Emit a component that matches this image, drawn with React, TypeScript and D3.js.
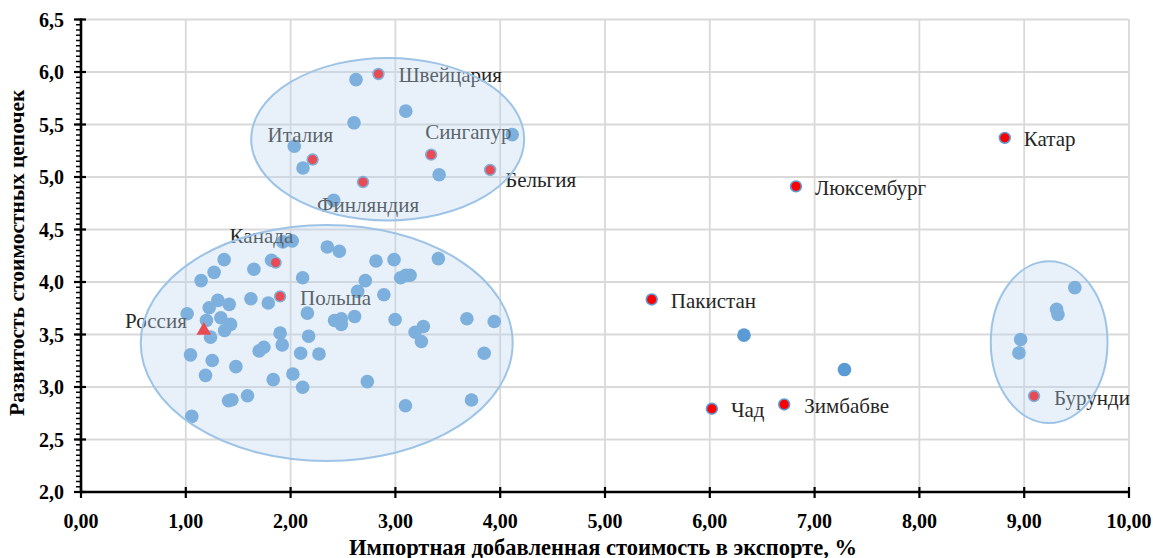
import React from 'react';
import * as d3 from 'd3';

// ---------- DATA ----------
const xTicks = [0, 1, 2, 3, 4, 5, 6, 7, 8, 9, 10];
const yTicks = [2.0, 2.5, 3.0, 3.5, 4.0, 4.5, 5.0, 5.5, 6.0, 6.5];

const xTitle = 'Импортная добавленная стоимость в экспорте, %';
const yTitle = 'Развитость стоимостных цепочек';

// other countries (blue)
const otherX = [
  2.624, 3.099, 2.605, 2.035, 2.118, 2.411, 3.417, 4.115,
  1.818, 1.927, 2.016, 2.35, 2.465, 1.366, 1.27, 1.146, 1.65, 2.115, 2.815, 2.987, 3.41,
  2.713, 3.05, 3.1, 3.14, 2.64, 2.89, 1.621, 1.787, 1.414, 1.306, 1.223, 1.013, 1.197,
  1.334, 1.427, 1.37, 1.236, 2.16, 2.42, 2.484, 2.484, 2.611, 2.997, 3.267, 3.188, 3.248,
  3.682, 3.943, 1.9, 2.172, 1.92, 1.745, 1.7, 1.045, 1.252, 1.478, 2.096, 2.271, 3.847,
  1.188, 1.834, 2.022, 2.115, 2.732, 1.589, 1.408, 1.44, 3.096, 3.726, 1.057,
  6.326, 7.285, 9.483, 9.309, 9.322, 8.966, 8.95,
];
const otherY = [
  5.927, 5.627, 5.516, 5.293, 5.086, 4.777, 5.022, 5.404,
  4.207, 4.382, 4.392, 4.334, 4.293, 4.213, 4.092, 4.013, 4.121, 4.041, 4.2, 4.213, 4.223,
  4.013, 4.041, 4.064, 4.064, 3.911, 3.879, 3.841, 3.8, 3.787, 3.825, 3.755, 3.697, 3.634,
  3.659, 3.596, 3.538, 3.475, 3.704, 3.634, 3.65, 3.596, 3.672, 3.643, 3.576, 3.522, 3.433,
  3.65, 3.624, 3.513, 3.484, 3.401, 3.379, 3.344, 3.306, 3.252, 3.194, 3.322, 3.315, 3.322,
  3.111, 3.07, 3.124, 2.997, 3.051, 2.917, 2.869, 2.879, 2.822, 2.876, 2.72,
  3.494, 3.166, 3.946, 3.739, 3.691, 3.452, 3.325,
];

// highlighted countries (red)
const highlightNames = [
  'Швейцария', 'Италия', 'Сингапур', 'Бельгия', 'Финляндия', 'Канада', 'Польша',
  'Пакистан', 'Люксембург', 'Катар', 'Чад', 'Зимбабве', 'Бурунди',
];
const highlightX = [2.838, 2.21, 3.341, 3.904, 2.691, 1.857, 1.9, 5.446, 6.822, 8.815, 6.02, 6.71, 9.094];
const highlightY = [5.981, 5.166, 5.213, 5.067, 4.952, 4.185, 3.863, 3.834, 4.911, 5.373, 2.793, 2.834, 2.914];

// Russia (triangle)
const russiaName = 'Россия';
const russiaX = 1.172;
const russiaY = 3.538;

// cluster ellipses (centre and radii in data units)
const clusterCx = [2.9265, 2.3445, 9.238];
const clusterCy = [5.36, 3.419, 3.4265];
const clusterRx = [1.3025, 1.7745, 0.557];
const clusterRy = [0.774, 1.124, 0.77];

// ---------- LAYOUT ----------
const W = 1153;
const H = 558;
const labelOffsets: Record<string, [number, number, string]> = {
  'Швейцария': [20, 1, 'start'],
  'Италия': [-45, -25, 'start'],
  'Сингапур': [-6, -23, 'start'],
  'Бельгия': [15, 10, 'start'],
  'Финляндия': [-46, 23, 'start'],
  'Канада': [-46, -27, 'start'],
  'Польша': [20, 2, 'start'],
  'Пакистан': [19, 1.5, 'start'],
  'Люксембург': [19, 1.5, 'start'],
  'Катар': [19, 1.5, 'start'],
  'Чад': [19, 1.5, 'start'],
  'Зимбабве': [20, 1.5, 'start'],
  'Бурунди': [20, 1.5, 'start'],
  'Россия': [-17, -10, 'end'],
};

const serif = '"Liberation Serif", "Times New Roman", serif';

export default function App() {
  const x = d3.scaleLinear().domain([0, 10]).range([81, 1129]);
  const y = d3.scaleLinear().domain([2, 6.5]).range([492, 19.5]);
  const fmtX = (v: number) => v.toFixed(2).replace('.', ',');
  const fmtY = (v: number) => v.toFixed(1).replace('.', ',');
  const minorY = d3.range(2, 6.5001, 0.05);
  const tri = d3.symbol().type(d3.symbolTriangle).size(95)();

  return (
    <div style={{ position: 'absolute', left: 0, top: 0 }}>
      <svg width={W} height={H} style={{ display: 'block', background: '#fff' }}>
        {/* gridlines */}
        <g stroke="#d9d9d9" strokeWidth={1.8}>
          {xTicks.filter((t) => t > 0).map((t) => (
            <line key={'gx' + t} x1={x(t)} x2={x(t)} y1={y(2)} y2={y(6.5)} />
          ))}
          {yTicks.filter((t) => t > 2).map((t) => (
            <line key={'gy' + t} x1={x(0)} x2={x(10)} y1={y(t)} y2={y(t)} />
          ))}
        </g>

        {/* blue points */}
        <g fill="#5b9bd5">
          {otherX.map((v, i) => (
            <circle key={'o' + i} cx={x(v)} cy={y(otherY[i])} r={6.8} />
          ))}
        </g>

        {/* red highlighted points */}
        <g fill="#ff0000" stroke="#5b9bd5" strokeWidth={1.6}>
          {highlightX.map((v, i) => (
            <circle key={'h' + i} cx={x(v)} cy={y(highlightY[i])} r={5.4} />
          ))}
        </g>

        {/* Russia */}
        <path d={tri || ''} transform={`translate(${x(russiaX)},${y(russiaY)})`} fill="#ff0000" />

        {/* labels */}
        <g fontFamily={serif} fontSize={21} fill="#262626">
          {highlightNames.map((n, i) => {
            const o = labelOffsets[n];
            return (
              <text key={'l' + n} x={x(highlightX[i]) + o[0]} y={y(highlightY[i]) + o[1]}
                textAnchor={o[2] as any} dominantBaseline="central">{n}</text>
            );
          })}
          <text x={x(russiaX) + labelOffsets[russiaName][0]} y={y(russiaY) + labelOffsets[russiaName][1]}
            textAnchor="end" dominantBaseline="central">{russiaName}</text>
        </g>

        {/* cluster ellipses */}
        <g fill="#bdd7ee" fillOpacity={0.35} stroke="#9dc3e6" strokeWidth={2}>
          {clusterCx.map((c, i) => (
            <ellipse key={'e' + i} cx={x(c)} cy={y(clusterCy[i])}
              rx={x(clusterRx[i]) - x(0)} ry={y(2) - y(2 + clusterRy[i])} />
          ))}
        </g>

        {/* axes */}
        <g stroke="#000">
          {minorY.map((t, i) => (
            <line key={'my' + i} x1={x(0) - 5} x2={x(0)} y1={y(t)} y2={y(t)} strokeWidth={1.5} />
          ))}
          {yTicks.map((t) => (
            <line key={'ty' + t} x1={x(0) - 7} x2={x(0) + 5} y1={y(t)} y2={y(t)} strokeWidth={2.2} />
          ))}
          {xTicks.map((t) => (
            <line key={'tx' + t} x1={x(t)} x2={x(t)} y1={y(2) - 5} y2={y(2) + 6} strokeWidth={2.2} />
          ))}
          <line x1={x(0)} x2={x(0)} y1={y(6.5) - 1} y2={y(2) + 1} strokeWidth={2.6} />
          <line x1={x(0) - 1} x2={x(10) + 1} y1={y(2)} y2={y(2)} strokeWidth={2.6} />
        </g>

        {/* tick labels */}
        <g fontFamily={serif} fontSize={20} fontWeight="bold" fill="#000">
          {yTicks.map((t) => (
            <text key={'ly' + t} x={x(0) - 17} y={y(t)} textAnchor="end" dominantBaseline="central">{fmtY(t)}</text>
          ))}
          {xTicks.map((t) => (
            <text key={'lx' + t} x={x(t)} y={521} textAnchor="middle" dominantBaseline="central">{fmtX(t)}</text>
          ))}
        </g>

        {/* axis titles */}
        <text x={603} y={547} textAnchor="middle" dominantBaseline="central"
          fontFamily={serif} fontSize={22.5} fontWeight="bold">{xTitle}</text>
        <text transform={`translate(17,${(y(2) + y(6.5)) / 2 - 3}) rotate(-90)`} textAnchor="middle"
          dominantBaseline="central" fontFamily={serif} fontSize={21.5} fontWeight="bold">{yTitle}</text>
      </svg>
    </div>
  );
}
